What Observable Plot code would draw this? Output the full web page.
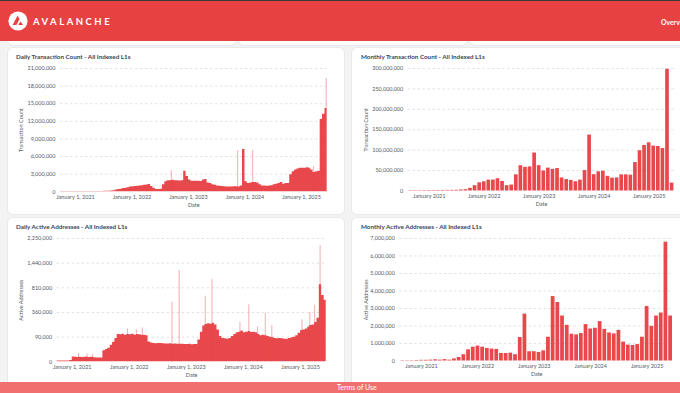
<!DOCTYPE html>
<html><head><meta charset="utf-8">
<script src="https://cdn.jsdelivr.net/npm/d3@7"></script>
<script src="https://cdn.jsdelivr.net/npm/@observablehq/plot@0.6"></script>
<style>
html,body{margin:0;padding:0;width:680px;height:393px;overflow:hidden;background:#f3f3f4;font-family:Lato,"Noto Sans",sans-serif;position:relative}
.card{position:absolute;background:#fff;border-radius:5px;box-shadow:0 0 0 1px #e9e9ec;overflow:hidden}
.title{position:absolute;font-size:6.3px;font-weight:700;color:#3b4456;white-space:nowrap}
.chart{position:absolute}
#header{position:absolute;left:0;top:0;width:680px;height:41px;background:#e84142;border-top:1.5px solid #3a3a3a;box-sizing:border-box;z-index:5}
#brand{position:absolute;left:33px;top:15px;font-size:9.5px;font-weight:700;letter-spacing:2.5px;color:#fff}
#nav{position:absolute;left:661px;top:17px;font-size:6.8px;font-weight:700;color:#fff;white-space:nowrap}
#footer{position:absolute;left:0;top:382px;width:680px;height:11px;background:#f26f6f;z-index:5;color:#fff;font-size:7px;line-height:11px}
#footer span{position:absolute;left:337px;top:0}
</style></head>
<body>
<div class="card" style="left:8px;top:20px;width:228px;height:25px"></div>
<div class="card" style="left:239px;top:20px;width:228px;height:25px"></div>
<div class="card" style="left:470px;top:20px;width:228px;height:25px"></div>
<div id="header">
  <svg width="20" height="20" viewBox="0 0 20 20" style="position:absolute;left:7.5px;top:10px">
    <circle cx="10" cy="10" r="9.6" fill="#fff"/>
    <path d="M9.6 4.6 L4.6 14 H8.4 L11.5 8.2 Z" fill="#e84142"/>
    <path d="M12.6 10.4 L10.2 14 H15 Z" fill="#e84142"/>
  </svg>
  <div id="brand">AVALANCHE</div>
  <div id="nav">Overview</div>
</div>

<div class="card" style="left:8px;top:48px;width:336px;height:166px"></div>
<div class="card" style="left:352px;top:48px;width:336px;height:166px"></div>
<div class="card" style="left:8px;top:218px;width:336px;height:170px"></div>
<div class="card" style="left:352px;top:218px;width:336px;height:170px"></div>

<div class="title" style="left:16px;top:53px">Daily Transaction Count - All Indexed L1s</div>
<div class="title" style="left:361px;top:53px">Monthly Transaction Count - All Indexed L1s</div>
<div class="title" style="left:16px;top:223px">Daily Active Addresses - All Indexed L1s</div>
<div class="title" style="left:361px;top:223px">Monthly Active Addresses - All Indexed L1s</div>

<div id="A" class="chart" style="left:8px;top:62px"></div>
<div id="B" class="chart" style="left:352px;top:62px"></div>
<div id="C" class="chart" style="left:8px;top:232px"></div>
<div id="D" class="chart" style="left:352px;top:232px"></div>

<div id="footer"><span>Terms of Use</span></div>

<script>
const RED = "#e8484b";

// ---------- Daily series: first date, then half-month steps (1st & 16th) Oct 2020 – Jun 1 2025 ----------
const dailyStart = "2020-09-26";
const dailyEnd = "2025-06-14";

// Daily transaction count, millions
const dailyTx2020 = [0.04, 0.04,0.04, 0.04,0.05, 0.05,0.05]; // Sep 26, Oct–Dec
const dailyTx2021 = [0.05,0.05, 0.05,0.06, 0.06,0.06, 0.06,0.06, 0.07,0.07, 0.07,0.07, 0.08,0.08, 0.1,0.15, 0.2,0.3, 0.38,0.45, 0.55,0.62, 0.7,0.8];
const dailyTx2022 = [0.85,0.9, 0.95,1.0, 1.05,1.1, 1.15,1.25, 0.9,0.6, 0.4,0.38, 0.42,1.2, 1.7,1.9, 1.9,1.95, 1.9,1.9, 1.85,1.9, 3.5,2.6];
const dailyTx2023 = [2.0,1.8, 1.8,1.8, 1.8,1.75, 2.0,2.1, 1.5,1.4, 1.2,1.1, 1.0,0.95, 0.9,0.85, 0.8,0.8, 0.82,0.85, 0.85,0.8, 1.0,7.2];
const dailyTx2024 = [1.7,1.4, 1.5,1.6, 1.6,1.5, 1.2,1.0, 1.0,0.95, 1.0,1.05, 1.2,1.3, 1.4,1.6, 1.3,1.4, 1.4,2.9, 3.4,3.7, 3.9,4.0];
const dailyTx2025 = [4.0,4.0, 4.1,4.0, 3.7,3.3, 3.4,3.5, 12.3,13.2, 14.2];
const dailyTxSpikeDates = ["2022-09-12", "2023-11-15", "2024-02-20", "2025-03-20", "2025-06-09"];
const dailyTxSpikeValues = [3.6, 7.0, 7.0, 4.3, 19.3];

// Daily active addresses, thousands
const dailyAA2020 = [0.1, 0.1,0.1, 0.1,0.1, 0.1,0.3];
const dailyAA2021 = [3.5,3.0, 2.8,3.2, 2.6,3.0, 3.2,2.8, 3.0,2.5, 2.2,2.0, 2.0,18, 22,27, 40,57, 80,110, 108,112, 105,110];
const dailyAA2022 = [108,112, 105,110, 108,104, 105,100, 58,52, 50,48, 49,50, 48,47, 47,48, 46,47, 46,45, 45,44];
const dailyAA2023 = [44,45, 43,44, 44,70, 130,190, 205,215, 210,220, 200,150, 95,80, 78,76, 80,95, 110,125, 130,140];
const dailyAA2024 = [125,130, 135,128, 130,125, 110,100, 105,100, 95,90, 85,80, 78,80, 78,75, 76,80, 85,90, 100,120];
const dailyAA2025 = [145,150, 160,180, 195,200, 230,280, 880,650, 560];
const dailyAASpikeDates = ["2021-02-10","2021-04-05","2021-05-12","2021-12-20","2022-02-15","2022-03-25","2022-10-01","2022-11-16","2023-05-02","2023-06-14","2023-12-10","2024-02-05","2024-04-01","2024-05-20","2024-07-01","2025-01-10","2025-03-01","2025-04-01","2025-05-06"];
const dailyAASpikeValues = [10, 9, 8, 160, 150, 170, 530, 1230, 630, 1000, 232, 480, 180, 350, 195, 260, 360, 467, 2000];

// ---------- Monthly series Sep 2020 – Jun 2025 ----------
const monthlyTx = [0.9,1.0,1.0,1.1,1.2,1.2,1.3,1.4,1.5,1.6,1.8, 2.5,3.2,6.5,13,20, 22.6,26.7,26.7,30,23.4,13,14.6,39.6,62,58,59,93, 62,49,56,53,55,32,28,26,22.6,26.7,50,137, 40,47,48.5,36,31.5,32,39.6,39.6,38.8,69.5,98.6,111.6, 118,110,109,104,298,19.4]; // millions
const monthlyAA = [0.02,0.02,0.02,0.03,0.04,0.04,0.05,0.07,0.05,0.08,0.05, 0.12,0.2,0.36,0.64,0.79, 0.85,0.79,0.72,0.68,0.66,0.43,0.43,0.45,0.36,1.34,2.68,0.53, 0.53,0.49,0.58,1.36,3.68,3.34,2.57,2.04,1.53,1.49,1.57,2.08, 1.83,1.87,2.25,1.81,1.6,1.55,1.75,1.08,0.91,0.89,0.94,1.36, 3.11,1.98,2.57,2.74,6.79,2.57]; // millions

// ---------- Tick values ----------
const dailyTicks = ["2021-01-01","2022-01-01","2023-01-01","2024-01-01","2025-01-01"];
const monthTicks = ["2021-01","2022-01","2023-01","2024-01","2025-01"];
const txDailyYTicks = [0,3e6,6e6,9e6,12e6,15e6,18e6,21e6];
const txMonthlyYTicks = [0,50e6,100e6,150e6,200e6,250e6,300e6];
const aaDailyYTicks = [0,90000,360000,810000,1440000,2250000];
const aaMonthlyYTicks = [0,1e6,2e6,3e6,4e6,5e6,6e6,7e6];

// ---------- build tables ----------
const halfMonths = d3.utcMonths(new Date("2020-10-01"), new Date("2025-06-02"))
  .flatMap(m => [m, d3.utcDay.offset(m, 15)]).slice(0, -1);
const dailyDates = [new Date(dailyStart), ...halfMonths];
function dailyTable(vals, unit) {
  const t = dailyDates.map((d, i) => ({date: d, value: vals[i] * unit}));
  t.push({date: new Date(dailyEnd), value: vals[vals.length - 1] * unit});
  return t;
}
const txDaily = dailyTable([...dailyTx2020, ...dailyTx2021, ...dailyTx2022, ...dailyTx2023, ...dailyTx2024, ...dailyTx2025], 1e6);
const aaDaily = dailyTable([...dailyAA2020, ...dailyAA2021, ...dailyAA2022, ...dailyAA2023, ...dailyAA2024, ...dailyAA2025], 1e3);
const txSpikes = dailyTxSpikeDates.map((d, i) => ({date: new Date(d), value: dailyTxSpikeValues[i] * 1e6}));
const aaSpikes = dailyAASpikeDates.map((d, i) => ({date: new Date(d), value: dailyAASpikeValues[i] * 1e3}));
const monthKeys = d3.utcMonths(new Date("2020-09-01"), new Date("2025-07-01")).map(d3.utcFormat("%Y-%m"));
const txMonthly = monthKeys.map((m, i) => ({month: m, value: monthlyTx[i] * 1e6}));
const aaMonthly = monthKeys.map((m, i) => ({month: m, value: monthlyAA[i] * 1e6}));

const baseStyle = {fontFamily: "Lato", fontSize: "5.5px", color: "#535a66", background: "transparent", overflow: "visible"};
const fmt = d3.format(",");
const GRID = {stroke: "#e2e2e4", strokeOpacity: 1, strokeDasharray: "2.5,2.5"};

function daily({data, spikes, yType, yDomain, yTicks, yLabel, ml, mr, ylo}) {
  return Plot.plot({
    width: 336, height: 150, marginLeft: ml, marginRight: mr, marginTop: 6, marginBottom: 20.7,
    style: baseStyle,
    x: {type: "utc", domain: [new Date(dailyStart), new Date(dailyEnd)], ticks: dailyTicks.map(d => new Date(d)),
        tickFormat: d3.utcFormat("%B %-d, %Y"), tickSize: 0, tickPadding: 3,
        label: "Date", labelAnchor: "center", labelOffset: 15.5, labelArrow: "none"},
    y: {type: yType, domain: yDomain, ticks: yTicks, tickFormat: fmt, tickSize: 0, tickPadding: 5,
        label: yLabel, labelAnchor: "center", labelOffset: ylo, labelArrow: "none"},
    marks: [
      Plot.gridY(yTicks.slice(1), GRID),
      Plot.areaY(data, {x: "date", y: "value", curve: "step-after", fill: RED}),
      Plot.ruleX(spikes, {x: "date", y1: 0, y2: "value", stroke: RED, strokeOpacity: 0.45, strokeWidth: 1})
    ]
  });
}
function monthly({data, yDomain, yTicks, yLabel, ml, mr, ylo}) {
  return Plot.plot({
    width: 330, height: 150, marginLeft: ml, marginRight: mr, marginTop: 6, marginBottom: 20.7,
    style: baseStyle,
    x: {type: "band", domain: monthKeys, padding: 0.2, ticks: monthTicks,
        tickFormat: m => d3.utcFormat("%B %Y")(new Date(m + "-01")), tickSize: 0, tickPadding: 3,
        label: "Date", labelAnchor: "center", labelOffset: 15.5, labelArrow: "none"},
    y: {domain: yDomain, ticks: yTicks, tickFormat: fmt, tickSize: 0, tickPadding: 5,
        label: yLabel, labelAnchor: "center", labelOffset: ylo, labelArrow: "none"},
    marks: [
      Plot.gridY(yTicks.slice(1), GRID),
      Plot.barY(data, {x: "month", y: "value", fill: RED})
    ]
  });
}

document.getElementById("A").append(daily({data: txDaily, spikes: txSpikes, yType: "linear", yDomain: [0, 21e6],
  yTicks: txDailyYTicks, yLabel: "Transaction Count", ml: 52, mr: 17.5, ylo: 41}));
document.getElementById("B").append(monthly({data: txMonthly, yDomain: [0, 300e6], yTicks: txMonthlyYTicks,
  yLabel: "Transaction Count", ml: 56, mr: 5.7, ylo: 44}));
document.getElementById("C").append(daily({data: aaDaily, spikes: aaSpikes, yType: "sqrt", yDomain: [0, 2250000],
  yTicks: aaDailyYTicks, yLabel: "Active Addresses", ml: 48.6, mr: 18.3, ylo: 37.6}));
document.getElementById("D").append(monthly({data: aaMonthly, yDomain: [0, 7e6], yTicks: aaMonthlyYTicks,
  yLabel: "Active Addresses", ml: 47.7, mr: 7.1, ylo: 35.7}));
</script>
</body></html>
